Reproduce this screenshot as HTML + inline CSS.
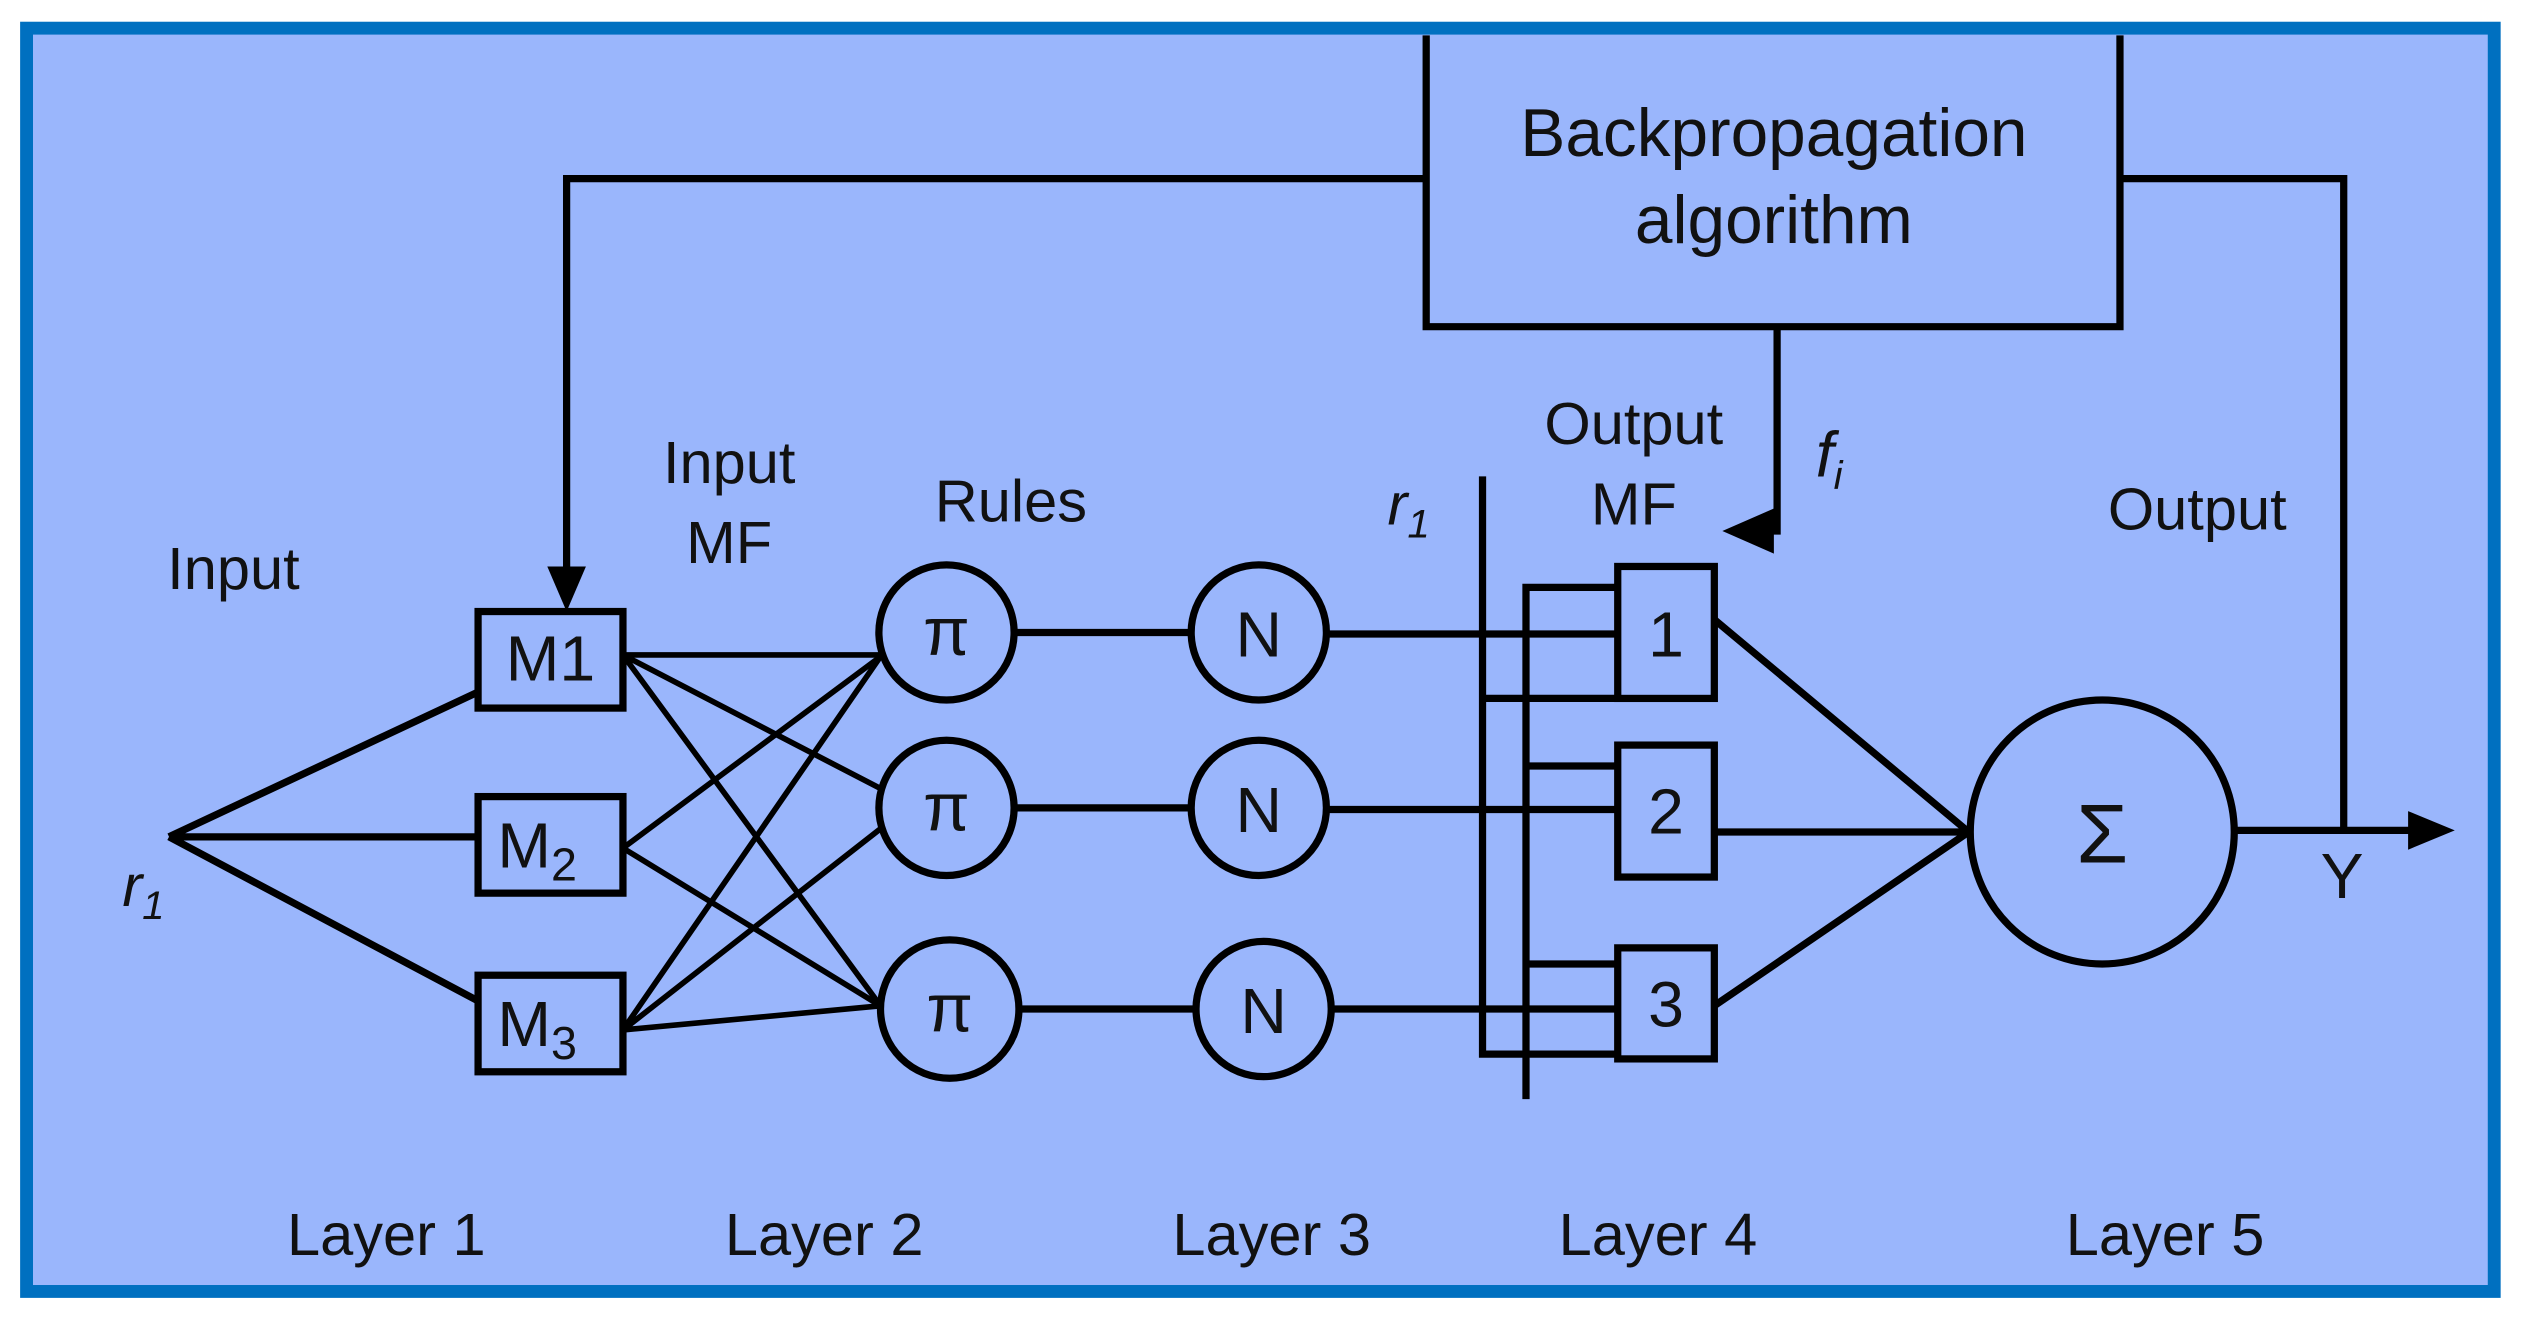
<!DOCTYPE html>
<html><head><meta charset="utf-8"><style>
html,body{margin:0;padding:0;background:#fff;}
svg{display:block;}
text{font-family:"Liberation Sans",Arial,sans-serif;fill:#111;}
</style></head><body>
<svg width="2524" height="1318" viewBox="0 0 1568 819" preserveAspectRatio="none" xmlns="http://www.w3.org/2000/svg">
<rect x="0" y="0" width="1568" height="819" fill="#fff"/>
<rect x="16.5" y="17.5" width="1533" height="785" fill="#9ab6fc" stroke="#0070c0" stroke-width="8"/>
<g stroke="#000" stroke-width="4.5" fill="none">
<path d="M886,22 V203 H1317 V22"/>
<path d="M886,111 H352 V360"/>
<path d="M1317,111 H1456 V515"/>
<path d="M1104,203 V330 H1090"/>
<path d="M105,520 L297,430 M105,520 H297 M105,520 L297,622"/>
<rect x="297" y="380" width="90" height="60"/>
<rect x="297" y="495" width="90" height="60"/>
<rect x="297" y="606" width="90" height="60"/>
</g>
<g stroke="#000" stroke-width="3.5" fill="none">
<path d="M387,407 H547 M387,407 L547,490 M387,407 L547,625"/>
<path d="M387,527 L547,408 M387,527 L547,625"/>
<path d="M387,640 L547,408 M387,640 L547,515 M387,640 L547,625"/>
</g>
<g stroke="#000" stroke-width="4.5" fill="none">
<circle cx="588" cy="393" r="42"/>
<circle cx="588" cy="502" r="42"/>
<circle cx="590" cy="627" r="43"/>
<circle cx="782" cy="393" r="42"/>
<circle cx="782" cy="502" r="42"/>
<circle cx="785" cy="627" r="42"/>
<path d="M630,393 H740 M630,502 H740 M633,627 H743"/>
<path d="M824,394 H1005 M824,503 H1005 M827,627 H1005"/>
<path d="M921,296 V655 H1005"/>
<path d="M948,683 V365 H1005"/>
<path d="M921,434 H1005 M948,476 H1005 M948,599 H1005"/>
<rect x="1005" y="352" width="60" height="82"/>
<rect x="1005" y="463" width="60" height="82"/>
<rect x="1005" y="589" width="60" height="69"/>
<path d="M1065,385 L1223,517 M1065,517 H1223 M1065,625 L1223,517"/>
<circle cx="1306" cy="517" r="82"/>
<path d="M1388,516 H1500"/>
</g>
<polygon points="340,352 364,352 352,380" fill="#000"/>
<polygon points="1070,330 1102,316 1102,344" fill="#000"/>
<polygon points="1525,516 1496,504 1496,528" fill="#000"/>
<text x="1102" y="97" font-size="42" text-anchor="middle">Backpropagation</text>
<text x="1102" y="151" font-size="42" text-anchor="middle">algorithm</text>
<text x="145" y="366" font-size="37" text-anchor="middle">Input</text>
<text x="453" y="300" font-size="37" text-anchor="middle">Input</text>
<text x="453" y="350" font-size="37" text-anchor="middle">MF</text>
<text x="628" y="324" font-size="37" text-anchor="middle">Rules</text>
<text x="1015" y="276" font-size="37" text-anchor="middle">Output</text>
<text x="1015" y="326" font-size="37" text-anchor="middle">MF</text>
<text x="1365" y="329" font-size="37" text-anchor="middle">Output</text>
<text x="862" y="326" font-size="37" font-style="italic">r<tspan font-size="25" dy="8">1</tspan></text>
<text x="76" y="563" font-size="37" font-style="italic">r<tspan font-size="25" dy="8">1</tspan></text>
<text x="1128" y="296" font-size="40" font-style="italic">f<tspan font-size="25" dy="8">i</tspan></text>
<text x="342" y="423" font-size="40" text-anchor="middle">M1</text>
<text x="309" y="539" font-size="40">M<tspan font-size="29" dy="8">2</tspan></text>
<text x="309" y="650" font-size="40">M<tspan font-size="29" dy="8">3</tspan></text>
<g font-size="42" text-anchor="middle">
<text x="588" y="407">π</text><text x="588" y="516">π</text><text x="590" y="641">π</text>
</g>
<g font-size="40" text-anchor="middle">
<text x="782" y="408">N</text><text x="782" y="517">N</text><text x="785" y="642">N</text>
<text x="1035" y="408">1</text><text x="1035" y="518">2</text><text x="1035" y="638">3</text>
<text x="1455" y="558">Y</text>
</g>
<text x="1306" y="536" font-size="52" text-anchor="middle">Σ</text>
<g font-size="37" text-anchor="middle">
<text x="240" y="780">Layer 1</text>
<text x="512" y="780">Layer 2</text>
<text x="790" y="780">Layer 3</text>
<text x="1030" y="780">Layer 4</text>
<text x="1345" y="780">Layer 5</text>
</g>
</svg>
</body></html>
